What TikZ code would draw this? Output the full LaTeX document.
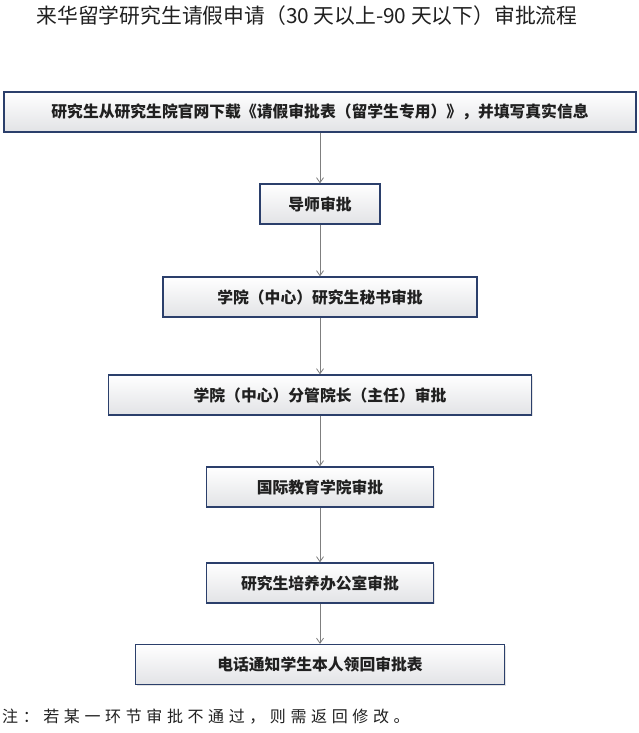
\documentclass[tikz,border=0pt]{standalone}
\usepackage{fontspec}
\newfontfamily\cjk{Noto Sans CJK SC}
\usetikzlibrary{arrows.meta,shadows}
\definecolor{boxline}{HTML}{2B3F6B}
\definecolor{boxbot}{HTML}{E2E3E6}
\definecolor{arr}{HTML}{7F7F7F}
\definecolor{ink}{HTML}{202020}
\newcommand\nk{\kern4.6pt}
\begin{document}
\begin{tikzpicture}[x=1pt,y=-1pt,
  flowbox/.style={draw=boxline, line width=1.3pt, top color=white, bottom color=boxbot,
    minimum height=40pt, inner sep=0pt, text=ink,
    font=\cjk\bfseries\fontsize{15.8}{18}\selectfont,
    drop shadow={shadow xshift=1.2pt, shadow yshift=-1.4pt, opacity=0.22, fill=gray}},
  flow/.style={draw=arr, line width=0.8pt, -{Straight Barb[length=5pt,width=7pt]}}]
\useasboundingbox (0,0) rectangle (639,733);
\node[font=\cjk\fontsize{20.8}{24}\selectfont, text=ink] (title) at (307,16)
  {来华留学研究生请假申请（30 天以上-90 天以下）审批流程};
\node[flowbox, minimum width=632pt] (s1) at (320,112)
  {研究生从研究生院官网下载《请假审批表（留学生专用）》，并填写真实信息};
\node[flowbox, minimum width=120pt] (s2) at (320,204) {导师审批};
\node[flowbox, minimum width=314pt] (s3) at (320,297) {学院（中心）研究生秘书审批};
\node[flowbox, minimum width=423pt] (s4) at (320,395) {学院（中心）分管院长（主任）审批};
\node[flowbox, minimum width=227pt] (s5) at (320,487) {国际教育学院审批};
\node[flowbox, minimum width=227pt] (s6) at (320,583) {研究生培养办公室审批};
\node[flowbox, minimum width=369pt] (s7) at (320,664.5) {电话通知学生本人领回审批表};
\draw[flow] (s1) -- (s2);
\draw[flow] (s2) -- (s3);
\draw[flow] (s3) -- (s4);
\draw[flow] (s4) -- (s5);
\draw[flow] (s5) -- (s6);
\draw[flow] (s6) -- (s7);
\node[anchor=west, inner sep=0pt, text=ink, font=\cjk\fontsize{16}{18}\selectfont] (note) at (2,717)
  {注{\nk}：{\nk}若{\nk}某{\nk}一{\nk}环{\nk}节{\nk}审{\nk}批{\nk}不{\nk}通{\nk}过{\nk}，{\nk}则{\nk}需{\nk}返{\nk}回{\nk}修{\nk}改{\nk}。};
\end{tikzpicture}
\end{document}
